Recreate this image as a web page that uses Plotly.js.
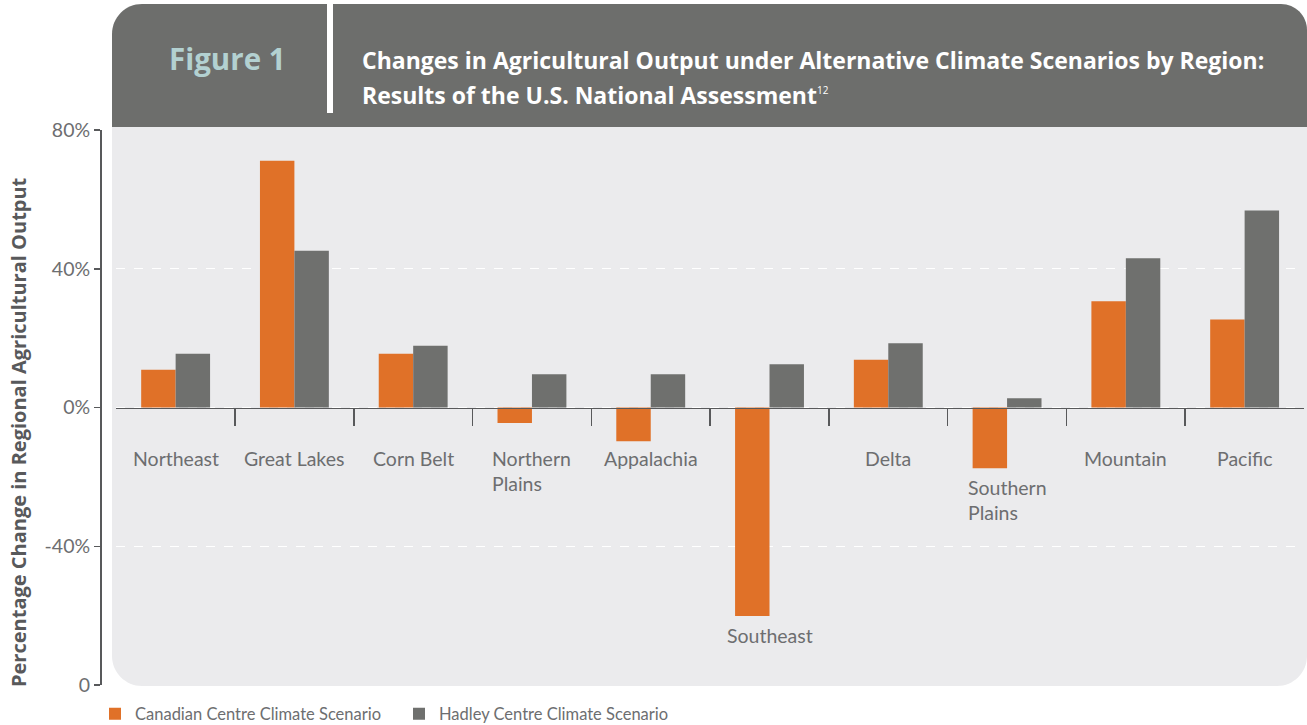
<!DOCTYPE html>
<html>
<head>
<meta charset="utf-8">
<script src="https://cdn.plot.ly/plotly-3.0.1.min.js"></script>
<style>
html,body{margin:0;padding:0;background:#ffffff;}
#chart{width:1307px;height:725px;}
</style>
</head>
<body>
<div id="chart"></div>
<script>
// ---- data ----
const categories = ["Northeast","Great Lakes","Corn Belt","Northern Plains","Appalachia","Southeast","Delta","Southern Plains","Mountain","Pacific"];
const categoryLabels = ["Northeast","Great Lakes","Corn Belt","Northern<br>Plains","Appalachia","Southeast","Delta","Southern<br>Plains","Mountain","Pacific"];
const canadian = [10.9, 71.1, 15.5, -4.5, -9.7, -60.1, 13.8, -17.5, 30.6, 25.4];
const hadley = [15.5, 45.2, 17.8, 9.6, 9.6, 12.5, 18.5, 2.7, 43.0, 56.8];
const yTickVals = [80, 40, 0, -40, -80];
const yTickText = ["80%", "40%", "0%", "-40%", "0"];
const seriesNames = ["Canadian Centre Climate Scenario", "Hadley Centre Climate Scenario"];
const figureLabel = "Figure 1";
const titleLine1 = "Changes in Agricultural Output under Alternative Climate Scenarios by Region:";
const titleLine2 = "Results of the U.S. National Assessment";
const titleNote = "12";
const yTitle = "Percentage Change in Regional Agricultural Output";

// ---- layout geometry ----
const W = 1307, H = 725, ML = 100, MR = 3, MT = 130, MB = 40;
const PW = W - ML - MR, PH = H - MT - MB;
const fx = X => (X - ML) / PW;
const fy = Y => (H - MB - Y) / PH;

function roundRect(x0, y0, x1, y1, rtl, rtr, rbr, rbl) {
  const k = 0.4477; // 1 - 0.5523
  const p = (X, Y) => fx(X).toFixed(5) + ',' + fy(Y).toFixed(5);
  let d = 'M' + p(x0 + rtl, y0);
  d += ' L' + p(x1 - rtr, y0);
  if (rtr) d += ' C' + p(x1 - rtr * k, y0) + ' ' + p(x1, y0 + rtr * k) + ' ' + p(x1, y0 + rtr);
  d += ' L' + p(x1, y1 - rbr);
  if (rbr) d += ' C' + p(x1, y1 - rbr * k) + ' ' + p(x1 - rbr * k, y1) + ' ' + p(x1 - rbr, y1);
  d += ' L' + p(x0 + rbl, y1);
  if (rbl) d += ' C' + p(x0 + rbl * k, y1) + ' ' + p(x0, y1 - rbl * k) + ' ' + p(x0, y1 - rbl);
  d += ' L' + p(x0, y0 + rtl);
  if (rtl) d += ' C' + p(x0, y0 + rtl * k) + ' ' + p(x0 + rtl * k, y0) + ' ' + p(x0 + rtl, y0);
  return d + ' Z';
}

const orange = '#e07128';
const grey = '#6f706e';
const textGrey = '#6d6e70';
const axisGrey = '#58595b';
const LATO = 'Lato, "Open Sans", "DejaVu Sans", sans-serif';
const OPEN = '"Open Sans", Lato, "DejaVu Sans", sans-serif';

const traces = [
  {type: 'bar', name: seriesNames[0], x: categories, y: canadian,
   marker: {color: orange, line: {width: 0}}, hoverinfo: 'skip'},
  {type: 'bar', name: seriesNames[1], x: categories, y: hadley,
   marker: {color: grey, line: {width: 0}}, hoverinfo: 'skip'}
];

const annotations = [];
categories.forEach((c, i) => {
  const lowest = Math.min(canadian[i], hadley[i], 0);
  annotations.push({
    xref: 'x', yref: 'y', x: c, y: lowest < -12 ? lowest : -9.2,
    yanchor: 'top', xanchor: 'center', yshift: -6, align: 'left',
    text: categoryLabels[i], showarrow: false,
    font: {family: LATO, size: 19.5, color: textGrey}
  });
});
annotations.push({
  xref: 'paper', yref: 'paper', x: fx(167), y: fy(59), xanchor: 'left', yanchor: 'middle',
  text: '<b>' + figureLabel + '</b>', showarrow: false,
  font: {family: OPEN, size: 29.5, color: '#b3d1d1'}
});
annotations.push({
  xref: 'paper', yref: 'paper', x: fx(360), y: fy(60), xanchor: 'left', yanchor: 'middle',
  text: '<b>' + titleLine1 + '</b>', showarrow: false,
  font: {family: OPEN, size: 23, color: '#ffffff'}
});
annotations.push({
  xref: 'paper', yref: 'paper', x: fx(360), y: fy(95), xanchor: 'left', yanchor: 'middle',
  text: '<b>' + titleLine2 + '</b><sup><span style="font-size:10px">' + titleNote + '</span></sup>', showarrow: false,
  font: {family: OPEN, size: 23, color: '#ffffff'}
});
annotations.push({
  xref: 'paper', yref: 'paper', x: fx(18), y: fy(432), xanchor: 'center', yanchor: 'middle',
  textangle: -90, text: '<b>' + yTitle + '</b>', showarrow: false,
  font: {family: OPEN, size: 20, color: axisGrey}
});

const shapes = [
  {type: 'path', xref: 'paper', yref: 'paper', layer: 'below',
   path: roundRect(112, 127, 1307, 686, 0, 0, 30, 30),
   fillcolor: '#ebebed', line: {width: 0}},
  {type: 'path', xref: 'paper', yref: 'paper', layer: 'below',
   path: roundRect(112, 4, 1307, 127, 30, 26, 0, 0),
   fillcolor: '#6d6e6c', line: {width: 0}},
  {type: 'rect', xref: 'paper', yref: 'paper', layer: 'below',
   x0: fx(327), x1: fx(333), y0: fy(113), y1: fy(3),
   fillcolor: '#ffffff', line: {width: 0}}
];

const layout = {
  width: W, height: H,
  margin: {l: ML, r: MR, t: MT, b: MB, pad: 0, autoexpand: false},
  paper_bgcolor: '#ffffff', plot_bgcolor: 'rgba(0,0,0,0)',
  barmode: 'group', bargap: 0.42, bargroupgap: 0,
  showlegend: true,
  legend: {orientation: 'h', xref: 'container', yref: 'container',
    x: 95 / W, y: 1 - 714 / H, xanchor: 'left', yanchor: 'middle',
    font: {family: LATO, size: 16.5, color: textGrey}, bgcolor: 'rgba(0,0,0,0)',
    traceorder: 'normal', entrywidth: 259, entrywidthmode: 'pixels'},
  xaxis: {type: 'category', domain: [16.25 / PW, 1], range: [-0.4999, 9.4999],
    anchor: 'free', position: 0.5,
    showline: true, linecolor: axisGrey, linewidth: 1.5,
    ticks: 'outside', tickson: 'boundaries', ticklen: 17, tickwidth: 1.5, tickcolor: axisGrey,
    showticklabels: false, showgrid: false, zeroline: false, fixedrange: true},
  yaxis: {range: [-80, 80], domain: [0, 1], anchor: 'free', position: 0,
    tickmode: 'array', tickvals: yTickVals, ticktext: yTickText,
    ticks: 'outside', ticklen: 6, tickwidth: 1.5, tickcolor: axisGrey,
    showline: true, linecolor: axisGrey, linewidth: 1.5,
    tickfont: {family: LATO, size: 19.5, color: textGrey},
    showgrid: true, gridcolor: '#ffffff', gridwidth: 1, griddash: 'dash',
    zeroline: false, fixedrange: true},
  annotations: annotations,
  shapes: shapes
};

Plotly.newPlot('chart', traces, layout, {displayModeBar: false, staticPlot: true});
</script>
</body>
</html>
